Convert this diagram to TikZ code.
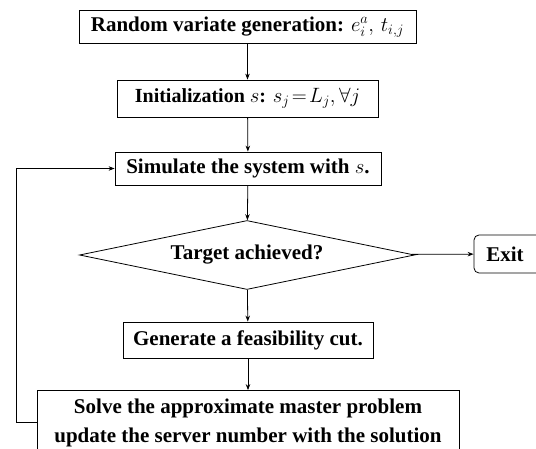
\documentclass[tikz,border=0pt]{standalone}
\usepackage{amsmath,amssymb}
\usepackage{fontspec}
\setmainfont{Liberation Serif}
\usepackage{tikz}
\usetikzlibrary{shapes.geometric,arrows.meta}

\tikzset{
  stepbox/.style={draw, thick, fill=white, inner sep=0pt, font=\fontsize{21}{29}\selectfont\bfseries, align=center},
  decisionbox/.style={draw, thick, diamond, aspect=4.85, inner sep=0pt, font=\fontsize{21}{24}\selectfont\bfseries},
  exitbox/.style={draw, thick, rounded corners=5pt, inner sep=0pt, font=\fontsize{21}{24}\selectfont\bfseries}
}

\begin{document}
\begin{tikzpicture}[x=1pt,y=-1pt,>={Stealth[length=6pt,width=4.5pt]}]
    \useasboundingbox (0,0) rectangle (536,449);
    \clip (0,0) rectangle (536,449);
    \node [stepbox, minimum width=337pt, minimum height=33pt] (gen) at (247.5,27) {Random variate generation: $e_i^a,\,t_{i,j}$};
    \node [stepbox, minimum width=261pt, minimum height=37pt, font=\fontsize{20}{24}\selectfont\bfseries] (init) at (247.5,98.5) {Initialization $s$: $s_j\!=\!L_j,\forall j$};
    \node [stepbox, minimum width=266pt, minimum height=33pt] (sim) at (248,168.5) {Simulate the system with $s$.};
    \node [decisionbox, minimum width=335pt, minimum height=69pt] (target) at (247,255) {Target achieved?};
    \node [exitbox, minimum width=72pt, minimum height=38pt] (exit) at (510,254) {\hspace*{-10pt}Exit};
    \node [stepbox, minimum width=250pt, minimum height=36pt] (cut) at (248,340) {Generate a feasibility cut.};
    \node [stepbox, minimum width=422pt, minimum height=64pt] (solve) at (248,422.5) {Solve the approximate master problem\\update the server number with the solution};
    \coordinate (back) at (16,0);
      \draw[->, black, thick] (gen) -- (init);
      \draw[->, black, thick] (init) -- (sim);
      \draw[->, black, thick] (sim) -- (target);
      \draw[->, black, thick] (target) -- (exit);
      \draw[->, black, thick] (target) -- (cut);
      \draw[->, black, thick] (cut) -- (solve);
      \draw[->, black, thick] (solve.west) -- (solve.west -| back) -- (sim.west -| back) -- (sim.west);
\end{tikzpicture}
\end{document}
